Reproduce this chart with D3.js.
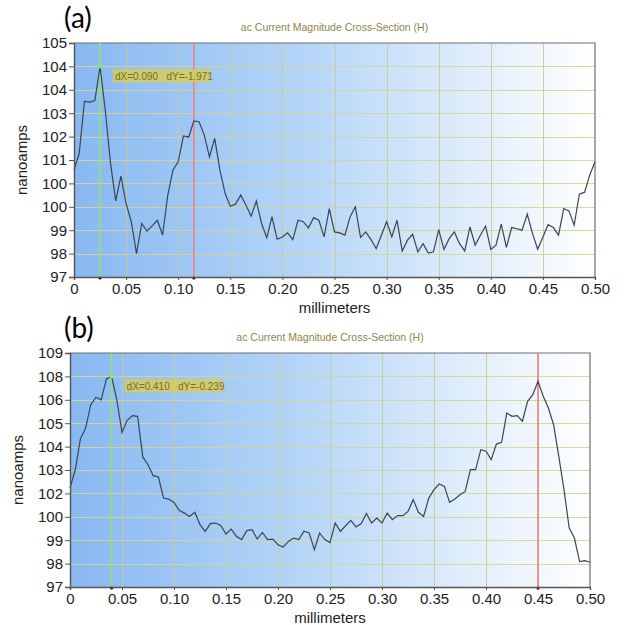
<!DOCTYPE html>
<html>
<head>
<meta charset="utf-8">
<script src="https://cdn.jsdelivr.net/npm/d3@7/dist/d3.min.js"></script>
<style>
  body { margin: 0; background: #fff; }
  svg { display: block; }
  .tick text { font-family: "Liberation Sans", Arial, sans-serif; }
</style>
</head>
<body>
<svg id="chart" width="624" height="625"></svg>
<script>
// sample positions along the cross-section (mm)
var sampleX = [
  0, .005, .01, .015, .02, .025, .03, .035, .04, .045,
  .05, .055, .06, .065, .07, .075, .08, .085, .09, .095,
  .10, .105, .11, .115, .12, .125, .13, .135, .14, .145,
  .15, .155, .16, .165, .17, .175, .18, .185, .19, .195,
  .20, .205, .21, .215, .22, .225, .23, .235, .24, .245,
  .25, .255, .26, .265, .27, .275, .28, .285, .29, .295,
  .30, .305, .31, .315, .32, .325, .33, .335, .34, .345,
  .35, .355, .36, .365, .37, .375, .38, .385, .39, .395,
  .40, .405, .41, .415, .42, .425, .43, .435, .44, .445,
  .45, .455, .46, .465, .47, .475, .48, .485, .49, .495, .50]

// panel (a) current, nanoamps
var currentA = [
  100.66, 101.23, 103.0, 102.98, 103.03, 104.2, 102.7, 100.9, 99.6, 100.45,
  99.51, 98.89, 97.8, 98.83, 98.57, 98.75, 98.94, 98.43, 99.8, 100.66,
  100.94, 101.82, 101.78, 102.34, 102.31, 101.86, 101.11, 101.74, 100.66, 99.86,
  99.42, 99.49, 99.8, 99.46, 99.08, 99.6, 98.83, 98.34, 99.06, 98.29,
  98.37, 98.51, 98.28, 98.94, 98.89, 98.68, 99.03, 98.94, 98.37, 99.34,
  98.54, 98.51, 98.43, 99.06, 99.4, 98.35, 98.54, 98.28, 97.97, 98.43,
  98.89, 98.37, 98.94, 97.89, 98.26, 98.46, 97.86, 98.14, 97.82, 97.86,
  98.62, 97.94, 98.31, 98.54, 98.14, 97.89, 98.71, 98.09, 98.43, 98.74,
  97.94, 98.09, 98.81, 98.01, 98.69, 98.65, 98.6, 99.15, 98.49, 97.95,
  98.37, 98.79, 98.69, 98.43, 99.34, 99.26, 98.77, 99.83, 99.9, 100.49, 100.94]

// panel (b) current, nanoamps
var currentB = [
  102.08, 103.0, 104.59, 105.15, 106.35, 106.73, 106.6, 107.67, 107.8, 106.6,
  104.93, 105.55, 105.79, 105.75, 103.67, 103.27, 102.71, 102.64, 101.56, 101.51,
  101.34, 100.93, 100.79, 100.62, 100.83, 100.2, 99.85, 100.25, 100.28, 100.16,
  99.72, 99.97, 99.6, 99.43, 99.89, 99.94, 99.46, 99.8, 99.43, 99.46,
  99.17, 99.05, 99.34, 99.51, 99.43, 99.86, 99.77, 98.91, 99.77, 99.43,
  99.28, 100.28, 99.85, 100.14, 100.42, 100.08, 100.25, 100.77, 100.28, 100.54,
  100.28, 100.79, 100.45, 100.66, 100.66, 100.88, 101.48, 100.83, 100.62, 101.56,
  101.99, 102.28, 102.16, 101.34, 101.51, 101.73, 101.9, 103.02, 103.02, 104.04,
  103.96, 103.53, 104.33, 104.42, 105.92, 105.75, 105.79, 105.5, 106.52, 106.86,
  107.55, 106.78, 106.18, 105.32, 103.7, 101.99, 100.02, 99.51, 98.3, 98.35, 98.27]

var xTicks = [0, .05, .10, .15, .20, .25, .30, .35, .40, .45, .50]
var xTickLabels = ['0', '0.05', '0.10', '0.15', '0.20', '0.25', '0.30', '0.35', '0.40', '0.45', '0.50']

var yTicksA = [97, 97.8, 98.6, 99.4, 100.2, 101, 101.8, 102.6, 103.4, 104.2, 105]
var yTickLabelsA = ['97', '98', '99', '100', '100', '101', '102', '103', '104', '104', '105']
var yTicksB = [97, 98.2, 99.4, 100.6, 101.8, 103, 104.2, 105.4, 106.6, 107.8, 109]
var yTickLabelsB = ['97', '98', '99', '100', '102', '103', '104', '105', '106', '108', '109']

var cursorsA = [0.025, 0.115]
var cursorsB = [0.04, 0.45]
var readoutA = 'dX=0.090\u00a0\u00a0\u00a0dY=-1.971'
var readoutB = 'dX=0.410\u00a0\u00a0\u00a0dY=-0.239'

var svg = d3.select('#chart')

var grad = svg.append('defs').append('linearGradient')
  .attr('id', 'plotbg')
  .attr('x1', 0).attr('x2', 1).attr('y1', 0).attr('y2', 0)
grad.selectAll('stop')
  .data([[0, '#88b8f1'], [0.45, '#b6d6f8'], [0.8, '#e5f0fc'], [1, '#ffffff']])
  .enter().append('stop')
  .attr('offset', function (d) { return d[0] })
  .attr('stop-color', function (d) { return d[1] })

drawPanel({ letter: '(a)', left: 74, right: 595, top: 43, bottom: 277,
            values: currentA, yDomain: [97, 105], yTicks: yTicksA, yLabels: yTickLabelsA,
            cursors: cursorsA, readout: readoutA, labelX: 22 })
drawPanel({ letter: '(b)', left: 70, right: 590, top: 353, bottom: 587,
            values: currentB, yDomain: [97, 109], yTicks: yTicksB, yLabels: yTickLabelsB,
            cursors: cursorsB, readout: readoutB, labelX: 18 })

function drawPanel(p) {
  var x = d3.scaleLinear().domain([0, 0.5]).range([p.left, p.right])
  var y = d3.scaleLinear().domain(p.yDomain).range([p.bottom, p.top])
  var g = svg.append('g')
  var w = p.right - p.left, h = p.bottom - p.top

  g.append('rect')
    .attr('x', p.left).attr('y', p.top)
    .attr('width', w).attr('height', h)
    .attr('fill', 'url(#plotbg)')

  // grid
  g.append('g').selectAll('line').data(p.yTicks.slice(1, -1)).enter().append('line')
    .attr('x1', p.left).attr('x2', p.right)
    .attr('y1', function (d) { return Math.round(y(d)) + 0.5 })
    .attr('y2', function (d) { return Math.round(y(d)) + 0.5 })
    .attr('stroke', '#d6d68e').attr('stroke-width', 1).attr('opacity', 0.9)
  g.append('g').selectAll('line').data(xTicks.slice(1, -1)).enter().append('line')
    .attr('y1', p.top).attr('y2', p.bottom)
    .attr('x1', function (d) { return Math.round(x(d)) + 0.5 })
    .attr('x2', function (d) { return Math.round(x(d)) + 0.5 })
    .attr('stroke', '#c6cc9c').attr('stroke-width', 1).attr('opacity', 0.9)

  // frame
  g.append('path')
    .attr('d', 'M' + p.left + ',' + p.top + 'H' + p.right + 'V' + p.bottom)
    .attr('fill', 'none').attr('stroke', '#6f6f6f').attr('stroke-width', 1.2)

  // cursors
  var colors = ['#8fe36a', '#ee8080']
  g.selectAll('.cursor').data(p.cursors).enter().append('line')
    .attr('class', 'cursor')
    .attr('x1', function (d) { return x(d) }).attr('x2', function (d) { return x(d) })
    .attr('y1', p.top).attr('y2', p.bottom)
    .attr('stroke', function (d, i) { return colors[i] })
    .attr('stroke-width', 1.6)

  var line = d3.line()
    .x(function (d, i) { return x(sampleX[i]) })
    .y(function (d) { return y(d) })
  g.append('path')
    .datum(p.values)
    .attr('d', line)
    .attr('fill', 'none')
    .attr('stroke', '#3b4654')
    .attr('stroke-width', 1.2)

  // peak marker and readout
  var ix = sampleX.indexOf(p.cursors[0])
  var px = x(p.cursors[0]), py = y(p.values[ix])
  g.append('circle').attr('cx', px).attr('cy', py).attr('r', 2.2).attr('fill', '#8fe36a')
  g.append('rect')
    .attr('x', px + 13).attr('y', py + 3)
    .attr('width', 98).attr('height', 13)
    .attr('fill', '#d8cd58').attr('opacity', 0.85)
  g.append('text')
    .attr('x', px + 15).attr('y', py + 13.5)
    .attr('font-family', 'Liberation Sans, Arial, sans-serif')
    .attr('font-size', 10)
    .attr('fill', '#7c6c24')
    .text(p.readout)

  g.selectAll('.foot').data(p.cursors).enter().append('circle')
    .attr('cx', function (d) { return x(d) }).attr('cy', p.bottom + 1)
    .attr('r', 1.6).attr('fill', '#111')

  // axes
  var yAxis = d3.axisLeft(y).tickValues(p.yTicks).tickSize(5).tickPadding(2)
    .tickFormat(function (d, i) { return p.yLabels[i] })
  var ya = g.append('g').attr('transform', 'translate(' + p.left + ',0)').call(yAxis)
  var xAxis = d3.axisBottom(x).tickValues(xTicks).tickSize(3).tickPadding(3)
    .tickFormat(function (d, i) { return xTickLabels[i] })
  var xa = g.append('g').attr('transform', 'translate(0,' + p.bottom + ')').call(xAxis)
  ;[ya, xa].forEach(function (a) {
    a.select('.domain').attr('stroke', '#555').attr('stroke-width', 1.4)
    a.selectAll('.tick line').attr('stroke', '#555')
    a.selectAll('.tick text').attr('font-size', 15).attr('fill', '#222')
  })

  // texts
  g.append('text')
    .attr('x', (p.left + p.right) / 2).attr('y', p.top - 12)
    .attr('text-anchor', 'middle')
    .attr('font-family', 'Liberation Sans, Arial, sans-serif')
    .attr('font-size', 10.5).attr('fill', '#8e8546')
    .text('ac Current Magnitude Cross-Section (H)')
  g.append('text')
    .attr('x', (p.left + p.right) / 2).attr('y', p.bottom + 36)
    .attr('text-anchor', 'middle')
    .attr('font-family', 'Liberation Sans, Arial, sans-serif')
    .attr('font-size', 15).attr('fill', '#222')
    .text('millimeters')
  g.append('text')
    .attr('transform', 'translate(' + (p.labelX + 5) + ',' + (p.top + h / 2) + ') rotate(-90)')
    .attr('text-anchor', 'middle')
    .attr('font-family', 'Liberation Sans, Arial, sans-serif')
    .attr('font-size', 15).attr('fill', '#222')
    .text('nanoamps')
  g.append('text')
    .attr('x', 64).attr('y', p.top - 15)
    .attr('font-family', 'Lato, sans-serif')
    .attr('font-size', 28).attr('fill', '#000')
    .text(p.letter)
}
</script>
</body>
</html>
